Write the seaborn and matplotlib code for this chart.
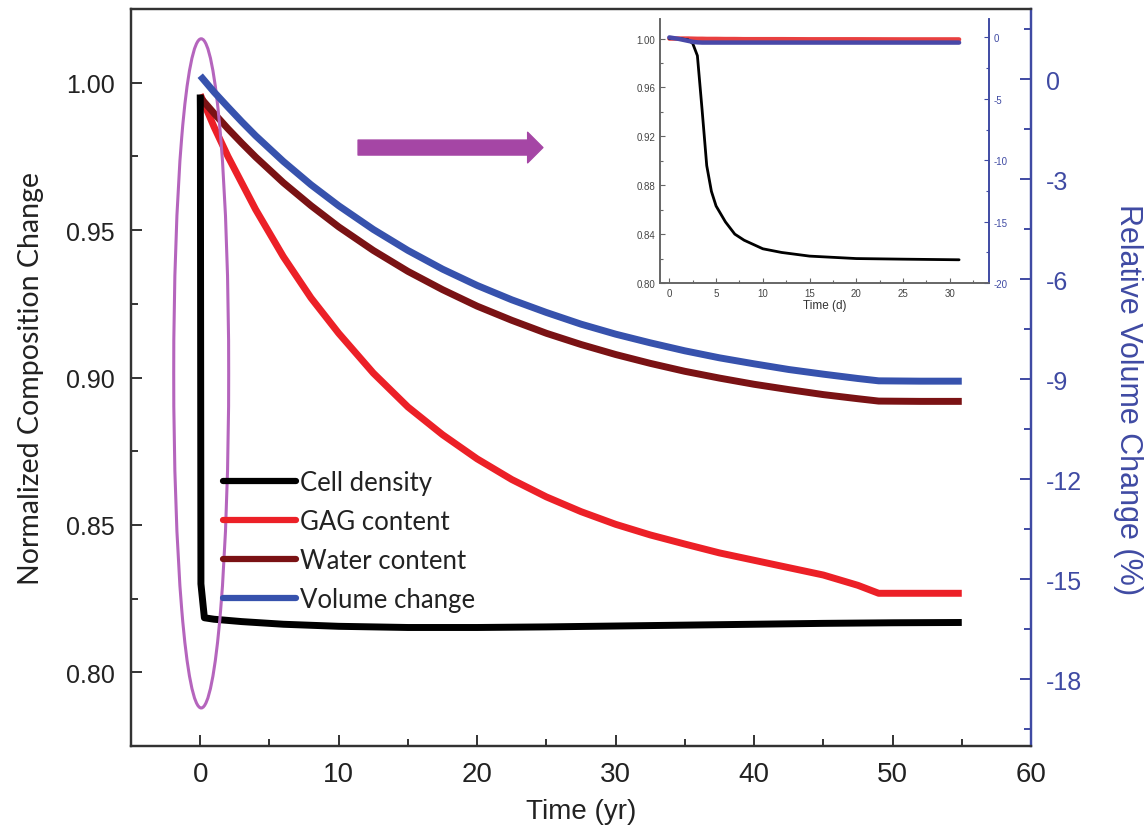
import numpy as np
import pandas as pd
import matplotlib
matplotlib.use("Agg")
import matplotlib.pyplot as plt
import seaborn as sns
from matplotlib.patches import Ellipse
from matplotlib.ticker import MultipleLocator, FormatStrFormatter

# ---------------- data ----------------
t_main = [0, 1, 2, 3, 4, 6, 8, 10, 12.5, 15, 17.5, 20, 22.5, 25, 27.5, 30,
          32.5, 35, 37.5, 40, 42.5, 45, 47.5, 49, 52, 55]
gag = [0.996, 0.985, 0.975, 0.966, 0.957, 0.941, 0.927, 0.915, 0.9015, 0.890,
       0.8806, 0.8724, 0.8654, 0.8595, 0.8545, 0.8502, 0.8466, 0.8435, 0.8405,
       0.8380, 0.8355, 0.8330, 0.8295, 0.8268, 0.8268, 0.8268]
water = [0.995, 0.9896, 0.9844, 0.9795, 0.9748, 0.9661, 0.9583, 0.9511, 0.9431,
         0.9360, 0.9298, 0.9242, 0.9194, 0.9150, 0.9112, 0.9078, 0.9048, 0.9021,
         0.8998, 0.8977, 0.8959, 0.8942, 0.8928, 0.8920, 0.8919, 0.8919]
volume = [0.1, -0.39, -0.84, -1.28, -1.70, -2.47, -3.17, -3.80, -4.51, -5.14,
          -5.70, -6.19, -6.62, -7.00, -7.35, -7.65, -7.91, -8.15, -8.36, -8.54,
          -8.71, -8.85, -8.98, -9.05, -9.06, -9.06]
t_cell = [0, 0.01, 0.05, 0.3, 1, 3, 6, 10, 15, 20, 25, 30, 35, 40, 45, 50, 55]
cell = [0.996, 0.99, 0.83, 0.8185, 0.8180, 0.8172, 0.8163, 0.8156, 0.8152,
        0.8152, 0.8154, 0.8157, 0.8160, 0.8163, 0.8166, 0.8168, 0.8169]

t_days = [0, 1, 2, 2.5, 3, 3.5, 4, 4.5, 5, 6, 7, 8, 10, 12, 15, 20, 25, 31]
cell_d = [1.0, 1.0, 0.999, 0.996, 0.986, 0.942, 0.896, 0.875, 0.863, 0.850,
          0.840, 0.835, 0.828, 0.825, 0.822, 0.820, 0.8195, 0.819]
gag_d = [1.0, 1.0, 1.0, 0.9999, 0.9998, 0.9998, 0.9997, 0.9997, 0.9997, 0.9996,
         0.9996, 0.9995, 0.9995, 0.9995, 0.9994, 0.9994, 0.9993, 0.9993]
vol_d = [0.0, -0.12, -0.28, -0.36, -0.4, -0.42, -0.42, -0.42, -0.42, -0.42,
         -0.42, -0.42, -0.42, -0.42, -0.42, -0.42, -0.42, -0.42]

labels = ["Cell density", "GAG content", "Water content", "Volume change"]
colors = {"Cell density": "#000000", "GAG content": "#ec2027",
          "Water content": "#7a1214", "Volume change": "#3752ad"}
axis_blue = "#3f4aa3"
axis_gray = "#333333"
ARIAL = ["Liberation Sans", "DejaVu Sans"]
CALIBRI = ["Lato", "DejaVu Sans"]

# ---------------- style ----------------
sns.set_style("ticks")
plt.rcParams["font.family"] = ARIAL
plt.rcParams["axes.unicode_minus"] = False

fig = plt.figure(figsize=(11.45, 8.37), dpi=100)
ax = fig.add_axes([131 / 1145, 1 - 747 / 837, 900 / 1145, 737 / 837])
ax2 = ax.twinx()

df_left = pd.concat([
    pd.DataFrame({"t": t_main, "v": gag, "s": "GAG content"}),
    pd.DataFrame({"t": t_main, "v": water, "s": "Water content"}),
    pd.DataFrame({"t": t_cell, "v": cell, "s": "Cell density"}),
])
for name in ["GAG content", "Water content", "Cell density"]:
    sns.lineplot(data=df_left[df_left.s == name], x="t", y="v", ax=ax,
                 color=colors[name], linewidth=5, legend=False,
                 solid_capstyle="butt")
df_vol = pd.DataFrame({"t": t_main, "v": volume})
sns.lineplot(data=df_vol, x="t", y="v", ax=ax2, color=colors["Volume change"],
             linewidth=5, legend=False, solid_capstyle="butt")

ax.set_xlim(-5, 60)
ax.set_ylim(0.775, 1.025)
ax2.set_ylim(-20, 2.1)

ax.xaxis.set_major_locator(MultipleLocator(10))
ax.xaxis.set_minor_locator(MultipleLocator(5))
ax.yaxis.set_major_locator(MultipleLocator(0.05))
ax.yaxis.set_minor_locator(MultipleLocator(0.025))
ax2.yaxis.set_major_locator(MultipleLocator(3))
ax2.yaxis.set_minor_locator(MultipleLocator(1.5))
ax.yaxis.set_major_formatter(FormatStrFormatter("%.2f"))

for a in (ax, ax2):
    for sp in a.spines.values():
        sp.set_linewidth(1.6)
        sp.set_color(axis_gray)
    a.spines["right"].set_color(axis_blue)
ax.tick_params(axis="both", which="major", direction="in", length=8, width=1.4,
               color=axis_gray)
ax.tick_params(axis="both", which="minor", direction="in", length=5, width=1.4,
               color=axis_gray)
ax.tick_params(axis="y", labelsize=18, labelcolor="#222222", pad=11.5)
ax.tick_params(axis="x", labelsize=20, labelcolor="#222222", pad=11)
ax2.tick_params(axis="y", which="major", direction="in", length=8, width=1.4,
                color=axis_blue, labelsize=18, labelcolor=axis_blue, pad=11)
ax2.tick_params(axis="y", which="minor", direction="in", length=5, width=1.4,
                color=axis_blue)
for lab in ax.get_xticklabels() + ax.get_yticklabels() + ax2.get_yticklabels():
    lab.set_family(ARIAL)

ax.set_xlabel("Time (yr)", fontsize=20, color="#222222", labelpad=8,
              family=ARIAL)
ax.set_ylabel("Normalized Composition Change", fontsize=20.5, color="#222222",
              family=CALIBRI, labelpad=16)
ax2.set_ylabel("Relative Volume Change (%)", fontsize=22, color=axis_blue,
               rotation=270, va="center", ha="center", family=ARIAL)
ax2.yaxis.set_label_coords((1128 - 131) / 900, (747 - 400) / 737)

# ellipse and arrow
ax.add_patch(Ellipse((0.07, 0.9014), width=3.97, height=0.227, fill=False,
                     ec="#b565bd", lw=2.2, zorder=5))
ax.annotate("", xy=(24.75, 0.978), xytext=(11.4, 0.978),
            arrowprops=dict(width=10.8, headwidth=22, headlength=11,
                            color="#a546a5", shrink=0))

# legend
handles = [plt.Line2D([], [], color=colors[n], lw=4.5) for n in labels]
leg = ax.legend(handles, labels, loc="upper left",
                bbox_to_anchor=((223 - 131) / 900, (747 - 471) / 737),
                frameon=False, handlelength=2.85,
                handletextpad=0.15, labelspacing=0.55, borderpad=0,
                borderaxespad=0, prop={"family": CALIBRI, "size": 18.5})
for txt in leg.get_texts():
    txt.set_color("#222222")

# ---------------- inset ----------------
axi = fig.add_axes([660 / 1145, 1 - 284 / 837, 329 / 1145, 264 / 837])
axi2 = axi.twinx()
sns.lineplot(x=t_days, y=gag_d, ax=axi, color="#e84040", linewidth=3.2,
             legend=False)
sns.lineplot(x=t_days, y=cell_d, ax=axi, color="#000000", linewidth=2.0,
             legend=False)
sns.lineplot(x=t_days, y=vol_d, ax=axi2, color="#4848a8", linewidth=3.2,
             legend=False)
axi.set_xlim(-1, 34.2)
axi.set_ylim(0.80, 1.016)
axi2.set_ylim(-20, 1.5)
axi.xaxis.set_major_locator(MultipleLocator(5))
axi.xaxis.set_minor_locator(MultipleLocator(2.5))
axi.yaxis.set_major_locator(MultipleLocator(0.04))
axi.yaxis.set_minor_locator(MultipleLocator(0.02))
axi.yaxis.set_major_formatter(FormatStrFormatter("%.2f"))
axi2.yaxis.set_major_locator(MultipleLocator(5))
axi2.yaxis.set_minor_locator(MultipleLocator(2.5))
for a in (axi, axi2):
    a.patch.set_alpha(0)
    a.spines["top"].set_visible(False)
    for k in ("left", "bottom"):
        a.spines[k].set_color("#666666")
        a.spines[k].set_linewidth(1.2)
    a.spines["right"].set_color(axis_blue)
    a.spines["right"].set_linewidth(1.2)
axi.tick_params(axis="both", which="major", direction="in", length=3.5,
                width=0.8, color="#666666", labelsize=7, labelcolor="#444444",
                pad=3.5)
axi.tick_params(axis="both", which="minor", direction="in", length=2,
                width=0.8, color="#666666")
axi2.tick_params(axis="y", which="major", direction="in", length=3.5,
                 width=0.8, color=axis_blue, labelsize=7,
                 labelcolor=axis_blue, pad=3.5)
axi2.tick_params(axis="y", which="minor", direction="in", length=2,
                 width=0.8, color=axis_blue)
for lab in axi.get_xticklabels() + axi.get_yticklabels() + axi2.get_yticklabels():
    lab.set_family(ARIAL)
axi.set_xlabel("Time (d)", fontsize=8.5, color="#333333", labelpad=1,
               family=ARIAL)
axi.set_ylabel("")
axi2.set_ylabel("")

fig.savefig("out.png", dpi=100)
